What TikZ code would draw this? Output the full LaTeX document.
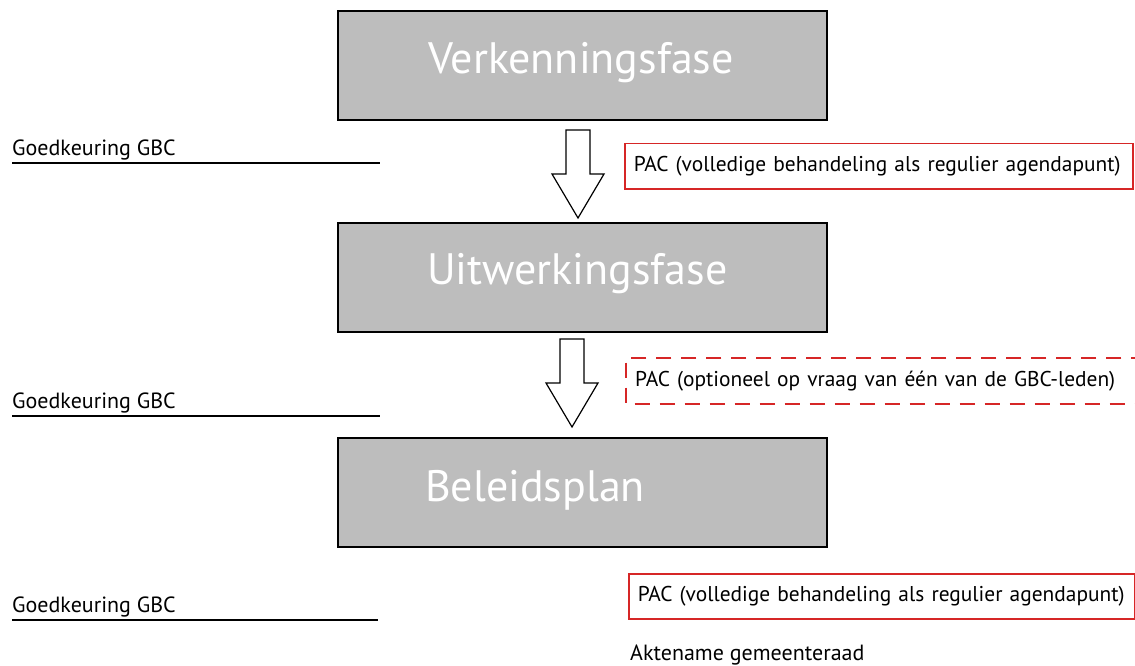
\documentclass[tikz,border=0pt]{standalone}
\usepackage{fontspec}
\setmainfont{PT Sans}
\definecolor{pacred}{RGB}{214,38,38}
\definecolor{phasegray}{RGB}{189,189,189}
\begin{document}
\begin{tikzpicture}[x=1pt,y=-1pt,
    phase/.style={draw=black,line width=1.6pt,fill=phasegray,anchor=north west,
      minimum width=489pt,minimum height=109pt,inner sep=0pt},
    phasetext/.style={anchor=base west,text=white,inner sep=0pt,
      font=\fontsize{44}{52}\selectfont},
    gbc/.style={anchor=base west,inner sep=0pt,font=\fontsize{22}{26}\selectfont},
    pacbox/.style={anchor=north west,minimum height=45pt,inner xsep=9pt,
      text width=#1,align=left,font=\fontsize{21.4}{26}\selectfont},
    downarrow/.pic={\draw[line width=1.2pt,fill=white]
      (-12,0) -- (12,0) -- (12,44) -- (26,44) -- (0,88) -- (-26,44) -- (-12,44) -- cycle;}
  ]
  \useasboundingbox (0,0) rectangle (1135,666);
    % fasen
    \node[phase] (verk) at (337,10) {};
    \node[phase] (uitw) at (337,222) {};
    \node[phase] (plan) at (337,437) {};
    \node[phasetext] (verktext) at (428,74) {Verkenningsfase};
    \node[phasetext] (uitwtext) at (427,284) {Uitwerkingsfase};
    \node[phasetext] (plantext) at (425,501) {Beleidsplan};
    % pijlen tussen de fasen
    \pic at (578,130) {downarrow};
    \pic at (572,339) {downarrow};
    % goedkeuring links
    \node[gbc] (gbc1) at (12,155) {Goedkeuring GBC};
    \draw[line width=1.3pt] (12,163) -- (380,163);
    \node[gbc] (gbc2) at (12,408) {Goedkeuring GBC};
    \draw[line width=1.3pt] (12,416) -- (380,416);
    \node[gbc] (gbc3) at (12,612) {Goedkeuring GBC};
    \draw[line width=1.3pt] (12,620) -- (378,620);
    % PAC rechts
    \node[pacbox=490pt,draw=pacred,line width=1.5pt] (pac1) at (624,143)
         {\mbox{PAC (volledige behandeling als regulier agendapunt)}};
    \node[pacbox=502pt,minimum height=45.5pt] (pac2) at (626,358)
         {\mbox{PAC (optioneel op vraag van één van de GBC-leden)}};
    \draw[pacred,line width=1.6pt,dash pattern=on 15pt off 10pt]
         (pac2.north east) -- (pac2.north west) -- (pac2.south west) -- (pac2.south east);
    \node[pacbox=488pt,draw=pacred,line width=1.5pt] (pac3) at (628,573)
         {\mbox{PAC (volledige behandeling als regulier agendapunt)}};
    \node[gbc] (akte) at (630,660) {Aktename gemeenteraad};
\end{tikzpicture}
\end{document}
